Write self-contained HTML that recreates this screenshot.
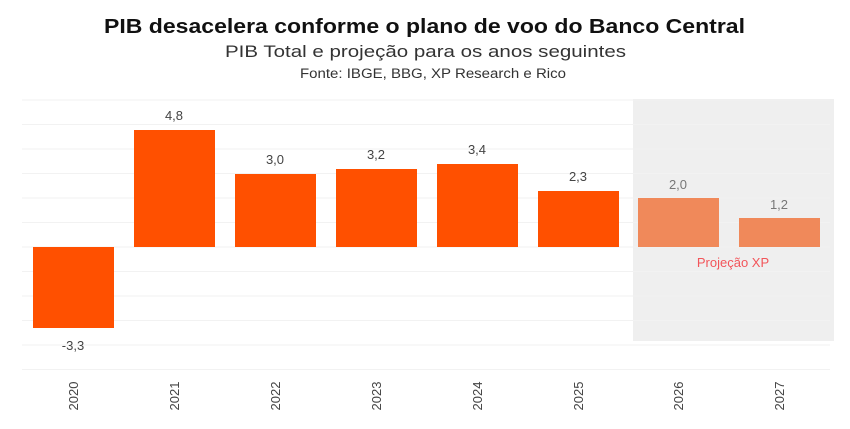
<!DOCTYPE html>
<html><head><meta charset="utf-8"><style>
body{margin:0;background:#fff;width:850px;height:424px;overflow:hidden;font-family:"Liberation Sans",sans-serif}
</style></head><body>
<svg width="850" height="424" xmlns="http://www.w3.org/2000/svg" font-family="Liberation Sans, sans-serif">
<text x="104" y="33" textLength="641" lengthAdjust="spacingAndGlyphs" font-size="20" font-weight="bold" fill="#111">PIB desacelera conforme o plano de voo do Banco Central</text>
<text x="225" y="57" textLength="401" lengthAdjust="spacingAndGlyphs" font-size="17" fill="#333">PIB Total e projeção para os anos seguintes</text>
<text x="300" y="78" textLength="266" lengthAdjust="spacingAndGlyphs" font-size="13.5" fill="#333">Fonte: IBGE, BBG, XP Research e Rico</text>
<rect x="633" y="99" width="201" height="242" fill="#efefef"/>
<g stroke="#f2f2f2" stroke-width="1">
<line x1="22" x2="830" y1="100" y2="100"/>
<line x1="22" x2="830" y1="124.5" y2="124.5"/>
<line x1="22" x2="830" y1="149" y2="149"/>
<line x1="22" x2="830" y1="173.5" y2="173.5"/>
<line x1="22" x2="830" y1="198" y2="198"/>
<line x1="22" x2="830" y1="222.5" y2="222.5"/>
<line x1="22" x2="830" y1="247" y2="247"/>
<line x1="22" x2="830" y1="271.5" y2="271.5"/>
<line x1="22" x2="830" y1="296" y2="296"/>
<line x1="22" x2="830" y1="320.5" y2="320.5"/>
<line x1="22" x2="830" y1="345" y2="345"/>
<line x1="22" x2="830" y1="369.5" y2="369.5"/>
</g>
<g fill="#ff5000">
<rect x="33" y="247" width="81" height="81"/>
<rect x="134" y="130" width="81" height="117"/>
<rect x="235" y="174" width="81" height="73"/>
<rect x="336" y="169" width="81" height="78"/>
<rect x="437" y="164" width="81" height="83"/>
<rect x="538" y="191" width="81" height="56"/>
</g>
<g fill="#f0895a">
<rect x="638" y="198" width="81" height="49"/>
<rect x="739" y="218" width="81" height="29"/>
</g>
<g font-size="13" fill="#444" text-anchor="middle">
<text x="73" y="350">-3,3</text>
<text x="174" y="120">4,8</text>
<text x="275" y="164">3,0</text>
<text x="376" y="159">3,2</text>
<text x="477" y="154">3,4</text>
<text x="578" y="181">2,3</text>
<text x="678" y="189" fill="#777">2,0</text>
<text x="779" y="209" fill="#777">1,2</text>
</g>
<text x="733" y="267" text-anchor="middle" font-size="13" fill="#f2555a">Projeção XP</text>
<g font-size="13" fill="#444" text-anchor="middle">
<text transform="translate(78,396) rotate(-90)">2020</text>
<text transform="translate(179,396) rotate(-90)">2021</text>
<text transform="translate(280,396) rotate(-90)">2022</text>
<text transform="translate(381,396) rotate(-90)">2023</text>
<text transform="translate(482,396) rotate(-90)">2024</text>
<text transform="translate(583,396) rotate(-90)">2025</text>
<text transform="translate(683,396) rotate(-90)">2026</text>
<text transform="translate(784,396) rotate(-90)">2027</text>
</g>
</svg>
</body></html>
